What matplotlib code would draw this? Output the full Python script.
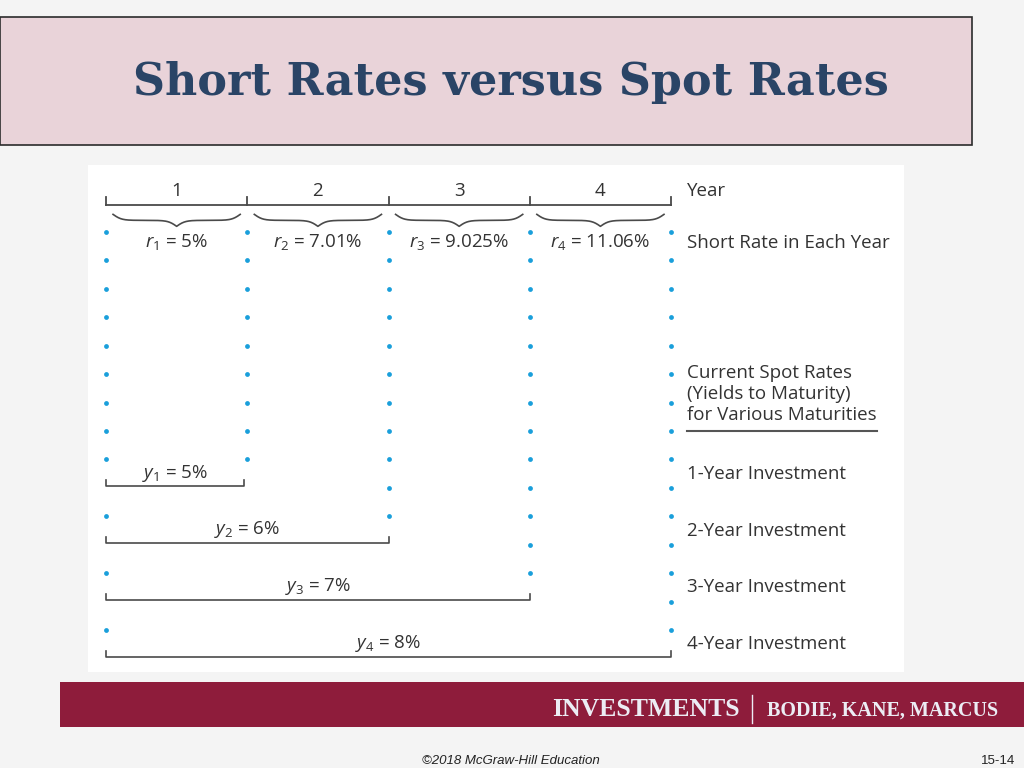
import numpy as np
import matplotlib.pyplot as plt
from matplotlib.patches import Rectangle

# chart data
years = [1, 2, 3, 4]
short_rates = ['5', '7.01', '9.025', '11.06']
spot_rates = ['5', '6', '7', '8']
investments = ['1-Year Investment', '2-Year Investment',
               '3-Year Investment', '4-Year Investment']
spot_heading = ['Current Spot Rates', '(Yields to Maturity)', 'for Various Maturities']

plt.rcParams['mathtext.fontset'] = 'custom'
plt.rcParams['mathtext.rm'] = 'Open Sans'
plt.rcParams['mathtext.it'] = 'Open Sans:italic'

TXT = '#333333'
LINE = '#4a4a4a'
DOT = '#1a9fdb'
SANS = 'Open Sans'
FS = 13.5

fig = plt.figure(figsize=(10.24, 7.68), dpi=100)
fig.patch.set_facecolor('#f4f4f4')

# slide decoration in pixel space
bg = fig.add_axes([0, 0, 1, 1])
bg.set_xlim(0, 1024)
bg.set_ylim(768, 0)
bg.axis('off')
bg.add_patch(Rectangle((0, 17), 972, 128, facecolor='#e9d3d9', edgecolor='#2b2b2b', lw=1.2))
bg.text(511, 83, 'Short Rates versus Spot Rates', fontsize=32, fontweight='bold',
        family='DejaVu Serif', color='#2a4466', ha='center', va='center')
bg.add_patch(Rectangle((60, 682), 964, 45, facecolor='#8e1c3b', edgecolor='none'))
bg.text(740, 709, 'INVESTMENTS', fontsize=18.5, fontweight='bold', family='Liberation Serif',
        color='#ececf4', ha='right', va='center')
bg.plot([752, 752], [695, 723], color='#ececf4', lw=1)
bg.text(998, 711, 'BODIE, KANE, MARCUS', fontsize=14.5, fontweight='bold',
        family='Liberation Serif', color='#ececf4', ha='right', va='center')
bg.text(511, 761, '\u00a92018 McGraw-Hill Education', fontsize=9.5, style='italic',
        family='Liberation Sans', color='#222222', ha='center', va='center')
bg.text(1015, 761, '15-14', fontsize=9.5, family='Liberation Sans', color='#222222',
        ha='right', va='center')

# diagram: x in years, y in dot rows
ax = fig.add_axes([88 / 1024, (768 - 672) / 768, (904 - 88) / 1024, (672 - 165) / 768])
ax.set_facecolor('white')
ax.set_xlim(-0.1274, 5.649)
ax.set_ylim(15.477, -2.357)
for s in ax.spines.values():
    s.set_visible(False)
ax.set_xticks([])
ax.set_yticks([])

n = len(years)
xr = n + 0.113  # right-hand text column

# year axis
ax.plot([0, n], [-0.95, -0.95], color=LINE, lw=1.3)
for b in range(n + 1):
    ax.plot([b, b], [-0.95, -1.22], color=LINE, lw=1.3)
for yr in years:
    ax.text(yr - 0.5, -1.46, str(yr), fontsize=FS, family=SANS, color=TXT,
            ha='center', va='center')
ax.text(xr, -1.46, 'Year', fontsize=FS, family=SANS, color=TXT, va='center')


def brace(x0, x1, ytop, h):
    half = np.linspace(0, 0.5, 120)
    b = 30.0
    yh = 1 / (1 + np.exp(-b * half)) + 1 / (1 + np.exp(-b * (half - 0.5)))
    yy = np.concatenate([yh, yh[::-1]])
    xx = np.concatenate([half, half + 0.5])
    ax.plot(x0 + xx * (x1 - x0), ytop + (yy - 0.5) * h, color=LINE, lw=1.2)


# short rates
for yr, r in zip(years, short_rates):
    brace(yr - 1 + 0.05, yr - 0.05, -0.62, 0.42)
    ax.text(yr - 0.5, 0.35, r'$r_{%d}$ = %s%%' % (yr, r), fontsize=FS, family=SANS,
            color=TXT, ha='center', va='center')
ax.text(xr, 0.39, 'Short Rate in Each Year', fontsize=FS, family=SANS, color=TXT, va='center')

# dotted columns
for b in range(n + 1):
    if b == 0:
        rows = list(range(0, 9)) + [8 + 2 * k for k in range(1, n)]
    else:
        rows = list(range(0, 7 + 2 * b))
    ax.scatter([b] * len(rows), rows, s=12, color=DOT, linewidths=0, zorder=3)

# spot rates
for i, line in enumerate(spot_heading):
    ax.text(xr, 4.96 + 0.74 * i, line, fontsize=FS, family=SANS, color=TXT, va='center')
ax.plot([xr, 5.458], [7.0, 7.0], color='#555555', lw=1.5)

for yr, y, lab in zip(years, spot_rates, investments):
    ybr = 6.95 + 2 * yr
    end = yr if yr > 1 else 0.98
    ax.plot([0, 0, end, end], [ybr - 0.22, ybr, ybr, ybr - 0.22], color=LINE, lw=1.2)
    ax.text(end / 2, 6.48 + 2 * yr, r'$y_{%d}$ = %s%%' % (yr, y), fontsize=FS,
            family=SANS, color=TXT, ha='center', va='center')
    ax.text(xr, 6.5 + 2 * yr, lab, fontsize=FS, family=SANS, color=TXT, va='center')

fig.savefig('out.png', dpi=100, facecolor=fig.get_facecolor())
